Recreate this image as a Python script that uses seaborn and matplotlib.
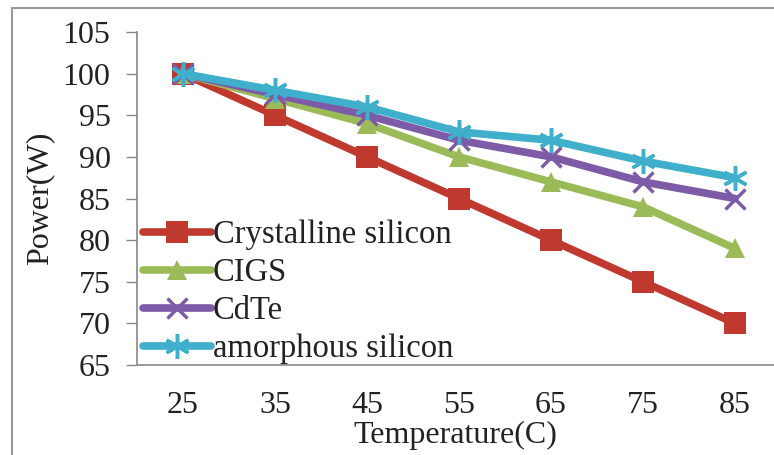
import matplotlib
matplotlib.use("Agg")
import matplotlib.pyplot as plt
import seaborn as sns
import pandas as pd
from matplotlib.patches import Rectangle

temperatures = ["25", "35", "45", "55", "65", "75", "85"]
crystalline = [100, 95, 90, 85, 80, 75, 70]
cigs = [100, 97, 94, 90, 87, 84, 79]
cdte = [100, 97.5, 95, 92, 90, 87, 85]
amorphous = [100, 98, 96, 93, 92, 89.5, 87.5]

series_names = ["Crystalline silicon", "CIGS", "CdTe", "amorphous silicon"]
series_values = [crystalline, cigs, cdte, amorphous]
colors = ["#C0392F", "#9BBB59", "#7D5BA6", "#3FAFCB"]
markers = ["s", "^", "x", (6, 2, 0)]
msizes = [16, 15, 14, 18]

sns.set_theme(style="white")
plt.rcParams["font.family"] = ["Liberation Serif", "DejaVu Serif"]

FS = 23
fig = plt.figure(figsize=(7.74, 4.55), dpi=100)
ax = fig.add_axes([137/774, 1-365/455, 644/774, 333/455])

for name, vals, c, m, ms in zip(series_names, series_values, colors, markers, msizes):
    df = pd.DataFrame({"x": list(range(len(temperatures))), "y": vals})
    sns.lineplot(data=df, x="x", y="y", ax=ax, color=c, linewidth=5.5,
                 marker=m, markersize=ms, markeredgewidth=2.5 if m in ("x", (6, 2, 0)) else 0,
                 markeredgecolor=c, label=name)

ax.set_xlim(-0.5, len(temperatures) - 0.5)
ax.set_ylim(65, 105)
ax.set_yticks(range(65, 106, 5))
ax.set_xticks(range(len(temperatures)))
ax.set_xticklabels(temperatures)
ax.tick_params(axis="y", which="both", left=True, length=8, width=1, color="#888888",
               direction="out", labelsize=FS, pad=11, labelcolor="#222222")
ax.tick_params(axis="x", bottom=False, labelsize=FS, pad=13, labelcolor="#222222")
for s in ["top", "right"]:
    ax.spines[s].set_visible(False)
for s in ["left", "bottom"]:
    ax.spines[s].set_color("#888888")
    ax.spines[s].set_linewidth(1.2)

ax.set_xlabel("Temperature(C)", fontsize=FS, color="#222222")
ax.set_ylabel("Power(W)", fontsize=FS, color="#222222")
ax.xaxis.set_label_coords((455-137)/644, -(421-365)/333)
ax.yaxis.set_label_coords(-(137-54)/644, 0.5)

leg = ax.legend(loc="upper left", bbox_to_anchor=(0.009, 0.437), frameon=False,
                fontsize=23.5, handlelength=2.1, handletextpad=0.05,
                borderpad=0, borderaxespad=0, labelspacing=0.23)
for t in leg.get_texts():
    t.set_color("#222222")

fig.patches.append(Rectangle((12/774, -0.1), 1.2, 1 - 8/455 + 0.1, transform=fig.transFigure,
                             fill=False, edgecolor="#999999", linewidth=1.5))

fig.savefig("out.png", dpi=100)
